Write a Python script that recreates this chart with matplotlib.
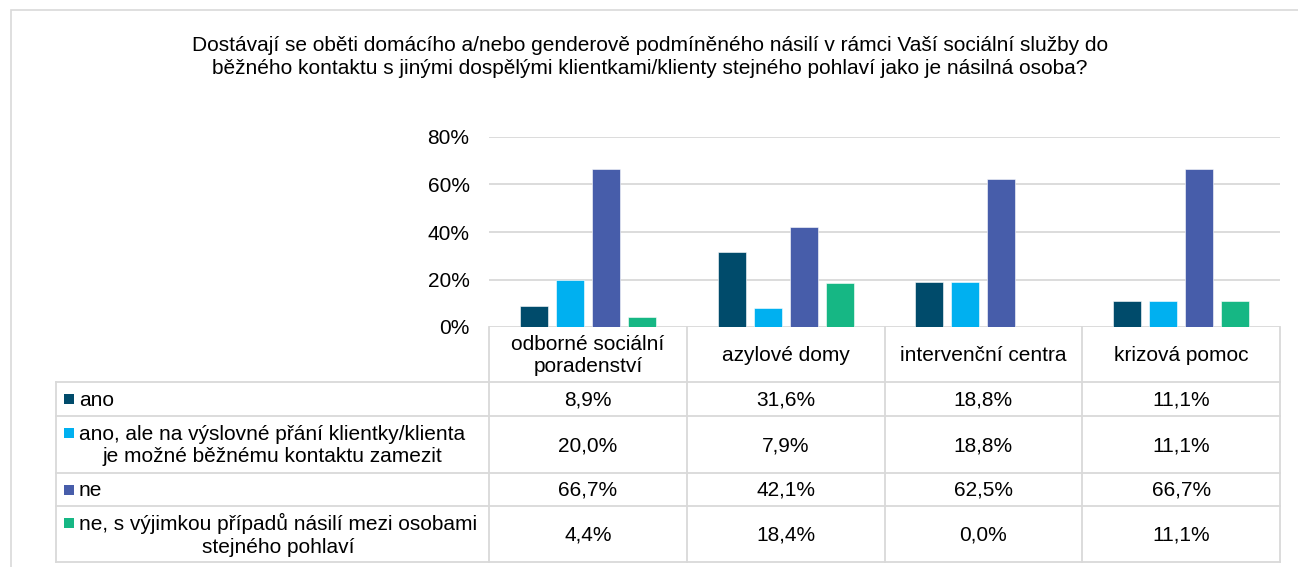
import numpy as np
import matplotlib.pyplot as plt
from matplotlib.patches import Rectangle
from matplotlib.lines import Line2D

plt.rcParams['font.family'] = ['Liberation Sans', 'DejaVu Sans']

W, H = 1298, 567  # figure size in px
FS = 15

title = ("Dostávají se oběti domácího a/nebo genderově podmíněného násilí v rámci Vaší sociální služby do\n"
         "běžného kontaktu s jinými dospělými klientkami/klienty stejného pohlaví jako je násilná osoba?")
categories = ["odborné sociální\nporadenství", "azylové domy", "intervenční centra", "krizová pomoc"]
series = ["ano",
          "ano, ale na výslovné přání klientky/klienta\nje možné běžnému kontaktu zamezit",
          "ne",
          "ne, s výjimkou případů násilí mezi osobami\nstejného pohlaví"]
ano = [8.9, 31.6, 18.8, 11.1]
ano_ale = [20.0, 7.9, 18.8, 11.1]
ne = [66.7, 42.1, 62.5, 66.7]
ne_vyjimka = [4.4, 18.4, 0.0, 11.1]
values = [ano, ano_ale, ne, ne_vyjimka]
colors = ["#004B6B", "#00B0F0", "#475DAA", "#16B784"]
yticks = [0, 20, 40, 60, 80]

def fx(x):
    return x / W

def fy(y):
    return 1 - y / H

fig = plt.figure(figsize=(W / 100, H / 100), dpi=100)

# outer chart border
fig.add_artist(Rectangle((fx(11), fy(600)), fx(1400), fy(10) - fy(600),
                         transform=fig.transFigure, fill=False, ec="#d9d9d9", lw=1.2))

fig.text(fx(650), fy(57), title, ha="center", va="center", fontsize=FS, linespacing=1.25)

# plot area
left, right, top, base = 489, 1280, 137, 327
ax = fig.add_axes([fx(left), fy(base), fx(right - left), fy(top) - fy(base)])
x = np.arange(len(categories))
bw = 0.1416
step = 0.182
for i, vals in enumerate(values):
    ax.bar(x + (i - 1.5) * step, np.array(vals) / 100, width=bw, color=colors[i],
           edgecolor="white", linewidth=0.4, zorder=3)
ax.set_xlim(-0.5, len(categories) - 0.5)
ax.set_ylim(0, 0.8)
ax.set_yticks([t / 100 for t in yticks])
ax.set_yticklabels([f"{t}%" for t in yticks], fontsize=FS)
ax.set_xticks([])
ax.grid(axis="y", color="#d9d9d9", lw=1.3, zorder=0)
ax.tick_params(axis="y", length=0, pad=14)
for s in ax.spines.values():
    s.set_visible(False)

# data table below
line_c = "#d9d9d9"
col_edges = [left + k * (right - left) / 4 for k in range(5)]
row_edges = [382, 416, 473, 506, 562]
tab_left = 56

def hline(y, x0, x1):
    fig.add_artist(Line2D([fx(x0), fx(x1)], [fy(y), fy(y)], transform=fig.transFigure,
                          color=line_c, lw=1.3))

def vline(xp, y0, y1):
    fig.add_artist(Line2D([fx(xp), fx(xp)], [fy(y0), fy(y1)], transform=fig.transFigure,
                          color=line_c, lw=1.3))

for yv in row_edges:
    hline(yv, tab_left, right)
for xv in col_edges:
    vline(xv, base, row_edges[-1])
vline(tab_left, row_edges[0], row_edges[-1])

for j, cat in enumerate(categories):
    cx = (col_edges[j] + col_edges[j + 1]) / 2
    fig.text(fx(cx), fy((base + row_edges[0]) / 2 + 1), cat, ha="center", va="center",
             fontsize=FS, linespacing=1.25)

for i, name in enumerate(series):
    y0, y1 = row_edges[i], row_edges[i + 1]
    cy = (y0 + y1) / 2
    nlines = name.count("\n") + 1
    first = cy - (nlines - 1) * 11.5
    fig.add_artist(Rectangle((fx(64), fy(first + 5)), fx(10), fy(first - 5) - fy(first + 5),
                             transform=fig.transFigure, color=colors[i], lw=0))
    fig.text(fx(79), fy(cy + 1), name, ha="left", va="center", fontsize=FS,
             multialignment="center", linespacing=1.25)
    for j in range(len(categories)):
        cx = (col_edges[j] + col_edges[j + 1]) / 2
        fig.text(fx(cx), fy(cy + 1), f"{values[i][j]:.1f}%".replace(".", ","),
                 ha="center", va="center", fontsize=FS)

fig.savefig("out.png", dpi=100)
